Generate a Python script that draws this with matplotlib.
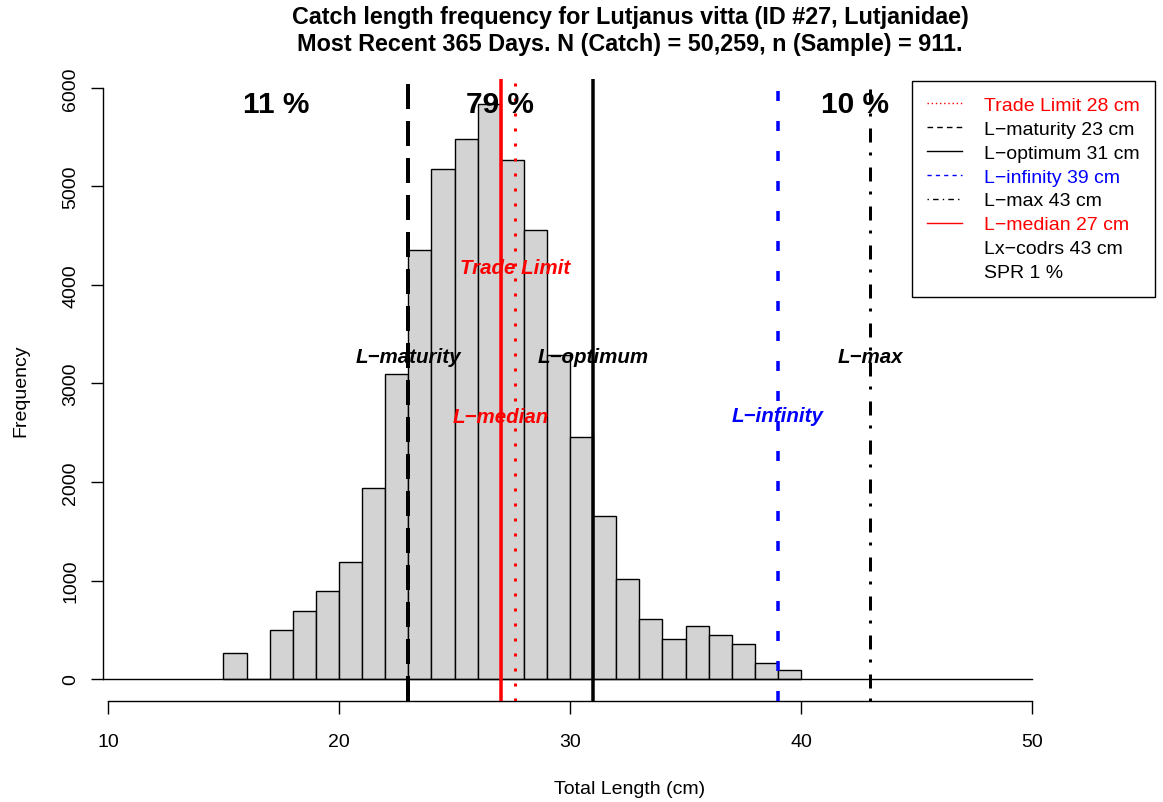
import matplotlib
matplotlib.use("Agg")
import matplotlib.pyplot as plt
from matplotlib.lines import Line2D

# histogram counts, 1 cm bins starting at 15 cm
bin_left = [15, 16, 17, 18, 19, 20, 21, 22, 23, 24, 25, 26, 27,
            28, 29, 30, 31, 32, 33, 34, 35, 36, 37, 38, 39]
counts = [265, 0, 502, 686, 895, 1192, 1943, 3099, 4356, 5179, 5480, 5833, 5271,
          4556, 3292, 2457, 1658, 1016, 609, 403, 538, 447, 352, 162, 95]

# reference lengths (cm)
l_trade = 27.62
l_maturity = 23
l_optimum = 31
l_infinity = 39
l_max = 43
l_median = 27

pct_labels = ["11 %", "79 %", "10 %"]
pct_x = [17.27, 26.97, 42.34]

legend_labels = ["Trade Limit 28 cm", "L\u2212maturity 23 cm", "L\u2212optimum 31 cm",
                 "L\u2212infinity 39 cm", "L\u2212max 43 cm", "L\u2212median 27 cm",
                 "Lx\u2212codrs 43 cm", "SPR 1 %"]
legend_colors = ["red", "black", "black", "blue", "black", "red", "black", "black"]

plt.rcParams['font.family'] = ['Liberation Sans', 'DejaVu Sans']
plt.rcParams['lines.scale_dashes'] = False

W, H = 1163, 803
fig = plt.figure(figsize=(W / 100, H / 100), dpi=100)
# plot region in pixels: left 103, right 1157, top 80, bottom 702
ax = fig.add_axes([103 / W, (H - 702) / H, (1157 - 103) / W, (702 - 80) / H])
x_lo, x_hi = 9.784, 55.41

ax.bar(bin_left, counts, width=1, align="edge", color="#D3D3D3",
       edgecolor="black", linewidth=1.0, zorder=2)
ax.plot([x_lo, 50], [0, 0], color="black", lw=1.0, zorder=3)

px = 0.72  # points per pixel
ax.axvline(l_maturity, color="black", lw=4 * px, dashes=(25 * px, 12 * px), zorder=4)
ax.axvline(l_optimum, color="black", lw=3.5 * px, zorder=4)
ax.axvline(l_infinity, color="blue", lw=3.5 * px, dashes=(10 * px, 20 * px), zorder=4)
ax.axvline(l_max, color="black", lw=3 * px,
           dashes=(3 * px, 10 * px, 14 * px, 12 * px), zorder=4)
ax.axvline(l_median, color="red", lw=3.5 * px, zorder=4)
ax.axvline(l_trade, color="red", lw=3 * px, dashes=(3 * px, 12 * px), zorder=4)

ax.set_xlim(x_lo, x_hi)
ax.set_ylim(-223, 6091)

for s in ["top", "right"]:
    ax.spines[s].set_visible(False)
ax.spines["left"].set_bounds(0, 6000)
ax.spines["bottom"].set_bounds(10, 50)
ax.spines["left"].set_linewidth(1.0)
ax.spines["bottom"].set_linewidth(1.0)

ax.set_xticks([10, 20, 30, 40, 50])
ax.set_yticks([0, 1000, 2000, 3000, 4000, 5000, 6000])
ax.set_yticklabels(["0", "1000", "2000", "3000", "4000", "5000", "6000"],
                   rotation=90, va="center")
ax.tick_params(axis="both", length=9, width=1.0, labelsize=14, pad=14)
ax.tick_params(axis="y", pad=8)

ax.set_xlabel("Total Length (cm)", fontsize=14, labelpad=22)
ax.set_ylabel("Frequency", fontsize=14, labelpad=24)

# percentage labels
for lab, xx in zip(pct_labels, pct_x):
    ax.text(xx, 5838, lab, ha="center", va="center", fontsize=21.5, fontweight="bold", zorder=5)

# line labels
lab_kw = dict(ha="center", va="center", fontsize=14.8, fontweight="bold", style="italic", zorder=5)
ax.text(l_maturity, 3270, "L\u2212maturity", color="black", **lab_kw)
ax.text(l_optimum, 3270, "L\u2212optimum", color="black", **lab_kw)
ax.text(l_max, 3270, "L\u2212max", color="black", **lab_kw)
ax.text(l_trade, 4173, "Trade Limit", color="red", **lab_kw)
ax.text(l_median, 2660, "L\u2212median", color="red", **lab_kw)
ax.text(l_infinity, 2680, "L\u2212infinity", color="blue", **lab_kw)

fig.suptitle("Catch length frequency for Lutjanus vitta (ID #27, Lutjanidae)\n"
             "Most Recent 365 Days. N (Catch) = 50,259, n (Sample) = 911.",
             x=630 / W, y=1 - 6 / H, va="top", fontsize=16.8, fontweight="bold",
             linespacing=1.2)

handles = [
    Line2D([], [], color="red", lw=1, dashes=(1, 2)),
    Line2D([], [], color="black", lw=1, dashes=(4, 3)),
    Line2D([], [], color="black", lw=1),
    Line2D([], [], color="blue", lw=1, dashes=(3, 3)),
    Line2D([], [], color="black", lw=1, dashes=(1, 3, 4, 3)),
    Line2D([], [], color="red", lw=1),
    Line2D([], [], color="none"),
    Line2D([], [], color="none"),
]
leg = fig.legend(handles, legend_labels, loc="upper right",
                 bbox_to_anchor=(1155 / W, 1 - 82 / H), fontsize=14,
                 labelcolor=legend_colors, frameon=True, fancybox=False,
                 edgecolor="black", framealpha=1, handlelength=1.8,
                 handletextpad=1.1, labelspacing=0.32, borderpad=0.8,
                 borderaxespad=0)
leg.get_frame().set_linewidth(1.0)

fig.savefig("out.png", dpi=100)
